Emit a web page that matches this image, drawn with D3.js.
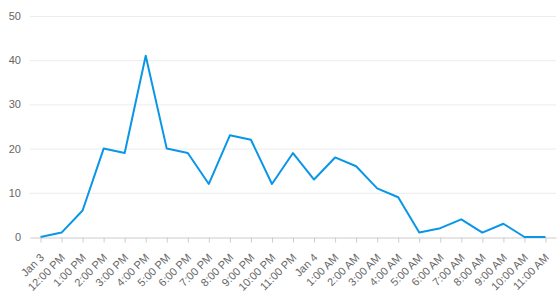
<!DOCTYPE html>
<html>
<head>
<meta charset="utf-8">
<script src="https://cdn.jsdelivr.net/npm/d3@7"></script>
<style>
  body { margin: 0; background: #fff; }
  svg text { font-family: "Liberation Sans", Arial, sans-serif; }
</style>
</head>
<body>
<svg id="chart" width="560" height="299"></svg>
<script>
"use strict";

let width = 560;
let height = 299;

// Hourly labels, Jan 3 11:00 AM through Jan 4 11:00 AM
let labels = ["Jan 3", "12:00 PM", "1:00 PM", "2:00 PM", "3:00 PM", "4:00 PM", "5:00 PM",
  "6:00 PM", "7:00 PM", "8:00 PM", "9:00 PM", "10:00 PM", "11:00 PM", "Jan 4",
  "1:00 AM", "2:00 AM", "3:00 AM", "4:00 AM", "5:00 AM", "6:00 AM", "7:00 AM",
  "8:00 AM", "9:00 AM", "10:00 AM", "11:00 AM"];
let values = [0, 1, 6, 20, 19, 41, 20, 19, 12, 23, 22, 12, 19, 13, 18, 16, 11, 9, 1, 2, 4, 1, 3, 0, 0];
let yTicks = [0, 10, 20, 30, 40, 50];

let margin = {top: 16, right: 4, bottom: 62, left: 30};
let svg = d3.select('#chart');

let x = d3.scalePoint()
  .domain(labels)
  .range([margin.left, width - margin.right])
  .padding(0.5);

let y = d3.scaleLinear()
  .domain([0, 50])
  .range([height - margin.bottom, margin.top]);

// Gridlines
svg.append("g")
  .selectAll("line")
  .data(yTicks.filter(d => d > 0))
  .enter()
  .append("line")
  .attr("x1", margin.left)
  .attr("x2", width - margin.right)
  .attr("y1", d => y(d) + 0.5)
  .attr("y2", d => y(d) + 0.5)
  .style("stroke", "#ececec")
  .style("stroke-width", 1);

// Y axis labels
svg.append("g")
  .selectAll("text")
  .data(yTicks)
  .enter()
  .append("text")
  .attr("x", 21)
  .attr("y", d => y(d) + 4)
  .attr("text-anchor", "end")
  .style("font-size", "11px")
  .style("fill", "#666")
  .text(d => d);

// X axis
let xAxis = svg.append("g")
  .attr("transform", `translate(0,${y(0) + 0.5})`)
  .call(d3.axisBottom(x).tickSizeInner(5).tickSizeOuter(0));

xAxis.select(".domain").style("stroke", "#ccc");
xAxis.selectAll(".tick line").style("stroke", "#ccc");
xAxis.selectAll(".tick text")
  .attr("text-anchor", "end")
  .attr("x", 0)
  .attr("y", 0)
  .attr("dy", "0.35em")
  .attr("transform", "translate(1,18) rotate(-45)")
  .style("font-size", "11px")
  .style("font-family", '"Liberation Sans", Arial, sans-serif')
  .style("fill", "#666");

// Series line
let line = d3.line()
  .x((d, i) => x(labels[i]))
  .y(d => y(d));

svg.append("path")
  .datum(values)
  .attr("d", line)
  .style("fill", "none")
  .style("stroke", "#0a96e8")
  .style("stroke-width", 2)
  .style("stroke-linejoin", "round");
</script>
</body>
</html>
